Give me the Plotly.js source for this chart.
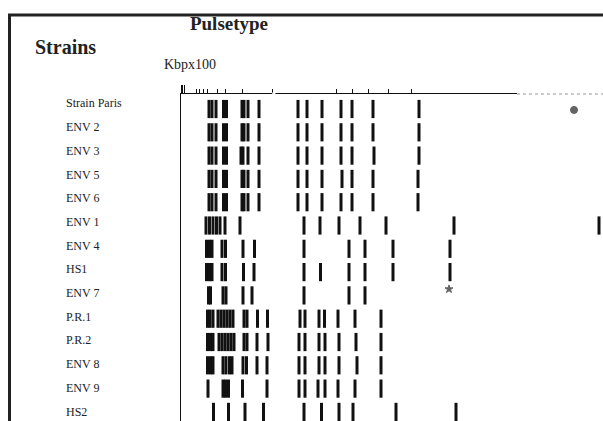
<!DOCTYPE html>
<html>
<head>
<meta charset="utf-8">
<script src="https://cdn.plot.ly/plotly-3.0.1.min.js"></script>
<style>html,body{margin:0;padding:0;background:#fff;}#chart{width:603px;height:421px;}</style>
</head>
<body>
<div id="chart"></div>
<script>
// Strain labels (top to bottom)
const strains = ["Strain Paris","ENV 2","ENV 3","ENV 5","ENV 6","ENV 1","ENV 4","HS1","ENV 7","P.R.1","P.R.2","ENV 8","ENV 9","HS2"];

// Band positions (migration distance, arbitrary units)
const bandsStrainParis = [14, 15.5, 17.5, 21.25, 22.75, 30.5, 31.5, 33.5, 39, 58.5, 63, 70.5, 80, 85.5, 96, 119];
const bandsEnv2 = [14, 15.5, 17.5, 21.25, 22.75, 30.5, 31.5, 33.5, 39, 58.5, 63, 70.5, 80, 85.5, 96, 119];
const bandsEnv3 = [14, 15.5, 17.5, 21.25, 22.75, 30, 31, 33.5, 39, 58.5, 63, 70.5, 80, 85.5, 96.5, 119];
const bandsEnv5 = [14, 15.5, 17.5, 21.25, 22.75, 30.5, 31.5, 33.5, 39, 58.5, 63, 70.5, 80.5, 85.5, 96, 118.5];
const bandsEnv6 = [14, 15.5, 17.5, 21.25, 22.75, 30.5, 31.5, 33.5, 39, 58.5, 63, 70.5, 80, 85.5, 96, 118.5];
const bandsEnv1 = [12.5, 14.25, 16, 17.75, 19.5, 22, 29.5, 61.5, 69.5, 79, 89.5, 102.5, 136.5, 209];
const bandsEnv4 = [12.75, 14.25, 15.5, 20.5, 22.25, 31, 36.75, 61.5, 84, 92, 106, 134.5];
const bandsHS1 = [12.75, 14.25, 15.5, 20.5, 22.25, 31.25, 36.5, 61.5, 69.75, 84, 92, 106, 134.5];
const bandsEnv7 = [13.75, 14.75, 21, 22.5, 31, 35.5, 61.5, 84, 92];
const bandsPR1 = [13.25, 14.5, 16, 18.5, 20, 21.5, 23, 24.5, 26, 31.5, 33, 38.25, 43.25, 59.5, 62, 69, 71.75, 78.5, 87, 100];
const bandsPR2 = [13.25, 14.75, 16, 19, 20.5, 22, 23.5, 25, 26.5, 31.5, 33, 38, 43.5, 59, 62, 69, 72, 79, 87.5, 100];
const bandsEnv8 = [13.25, 14.75, 16, 21, 22.5, 24.25, 25.5, 31, 32.75, 38, 43, 59, 62, 69, 72, 79, 88, 100];
const bandsEnv9 = [13.5, 21, 22.25, 23.75, 30.75, 43, 59, 62, 68.5, 72, 78.5, 87, 100];
const bandsHS2 = [16.25, 23.75, 32, 41.25, 61.5, 70.25, 79, 86, 107.5, 137.5];

// Spots / artefacts on the gel (position, lane coordinate)
const spotX = [196.5, 134];
const spotLane = [0.04, 7.73];

// Size-scale ruler ticks (top axis)
const rulerTicks = [7.5, 9, 11, 13, 18, 22, 30.5, 45.5, 77.5, 85.5, 93.5, 103.5, 115];
const rulerMajorTicks = [0.5, 1.8];
// Ruler segments: gap in the ruler line and faint dotted end section
const rulerGap = [45.6, 47.2];
const rulerFaint = [168, 212];

const bandRows = [bandsStrainParis, bandsEnv2, bandsEnv3, bandsEnv5, bandsEnv6, bandsEnv1, bandsEnv4,
  bandsHS1, bandsEnv7, bandsPR1, bandsPR2, bandsEnv8, bandsEnv9, bandsHS2];

const bx = [], by = [];
bandRows.forEach((row, i) => row.forEach(v => { bx.push(v); by.push(i); }));

const serif = "Liberation Serif, Times New Roman, serif";

const traces = [
  {
    type: "scatter", mode: "markers", x: bx, y: by, hoverinfo: "skip",
    marker: { symbol: "line-ns", size: 13, line: { width: 3, color: "#111" } },
    showlegend: false
  },
  {
    type: "scatter", mode: "markers", x: spotX, y: spotLane, hoverinfo: "skip",
    marker: { symbol: ["circle-x", "star"], size: [7, 6], color: "#222", line: { width: 1, color: "#222" } },
    showlegend: false
  },
  {
    type: "scatter", mode: "markers", x: [rulerMajorTicks[0]], y: [0], xaxis: "x2",
    marker: { opacity: 0 }, hoverinfo: "skip", showlegend: false
  }
];

const annotations = strains.map((s, i) => ({
  text: s, xref: "paper", yref: "y2", x: (64 - 181) / 422, y: i,
  xanchor: "left", yanchor: "middle", showarrow: false,
  font: { family: serif, size: 12, color: "#222" }
}));
annotations.push({
  text: "<b>Strains</b>", xref: "paper", yref: "paper", x: (33 - 181) / 422, y: (421 - 47) / 327,
  xanchor: "left", yanchor: "middle", showarrow: false,
  font: { family: serif, size: 20, color: "#222" }
});
annotations.push({
  text: "Kbpx100", xref: "paper", yref: "paper", x: (162 - 181) / 422, y: (421 - 64) / 327,
  xanchor: "left", yanchor: "middle", showarrow: false,
  font: { family: serif, size: 14, color: "#222" }
});

const layout = {
  width: 603, height: 421,
  margin: { l: 181, r: 0, t: 94, b: 0, pad: 0 },
  paper_bgcolor: "#fff", plot_bgcolor: "#fff",
  showlegend: false,
  title: {
    text: "<b>Pulsetype</b>", xref: "container", yref: "container",
    x: 229 / 603, xanchor: "center", y: 1 - 23 / 421, yanchor: "middle",
    font: { family: serif, size: 19, color: "#222" }
  },
  xaxis: {
    range: [0, 211], side: "top", showline: true, linecolor: "#111", linewidth: 1.3,
    ticks: "outside", tickvals: rulerTicks, ticklen: 4, tickwidth: 1, tickcolor: "#111",
    showticklabels: false, showgrid: false, zeroline: false, fixedrange: true
  },
  xaxis2: {
    range: [0, 211], side: "top", overlaying: "x", showline: false,
    ticks: "outside", tickvals: rulerMajorTicks, ticklen: 8, tickwidth: 1.2, tickcolor: "#111",
    showticklabels: false, showgrid: false, zeroline: false
  },
  yaxis: {
    range: [13.39, -0.644], showline: true, linecolor: "#111", linewidth: 1.3,
    ticks: "", showticklabels: false, showgrid: false, zeroline: false, fixedrange: true
  },
  yaxis2: {
    range: [13.40, -0.40], overlaying: "y", visible: false
  },
  annotations: annotations,
  shapes: [
    { type: "line", xref: "paper", yref: "paper", x0: (8 - 181) / 422, x1: 1.01, y0: (421 - 15) / 327, y1: (421 - 15) / 327,
      line: { color: "#222", width: 3 } },
    { type: "line", xref: "paper", yref: "paper", x0: (9.5 - 181) / 422, x1: (9.5 - 181) / 422, y0: (421 - 15) / 327, y1: -0.02,
      line: { color: "#222", width: 3 } },
    { type: "line", xref: "x", yref: "paper", x0: rulerGap[0], x1: rulerGap[1], y0: 1, y1: 1, layer: "above",
      line: { color: "#fff", width: 3 } },
    { type: "line", xref: "x", yref: "paper", x0: rulerFaint[0], x1: rulerFaint[1], y0: 1, y1: 1, layer: "above",
      line: { color: "#fff", width: 3 } },
    { type: "line", xref: "x", yref: "paper", x0: rulerFaint[0], x1: rulerFaint[1], y0: 1, y1: 1, layer: "above",
      line: { color: "#999", width: 1.2, dash: "dot" } }
  ]
};

Plotly.newPlot("chart", traces, layout, { displayModeBar: false, staticPlot: true });
</script>
</body>
</html>
